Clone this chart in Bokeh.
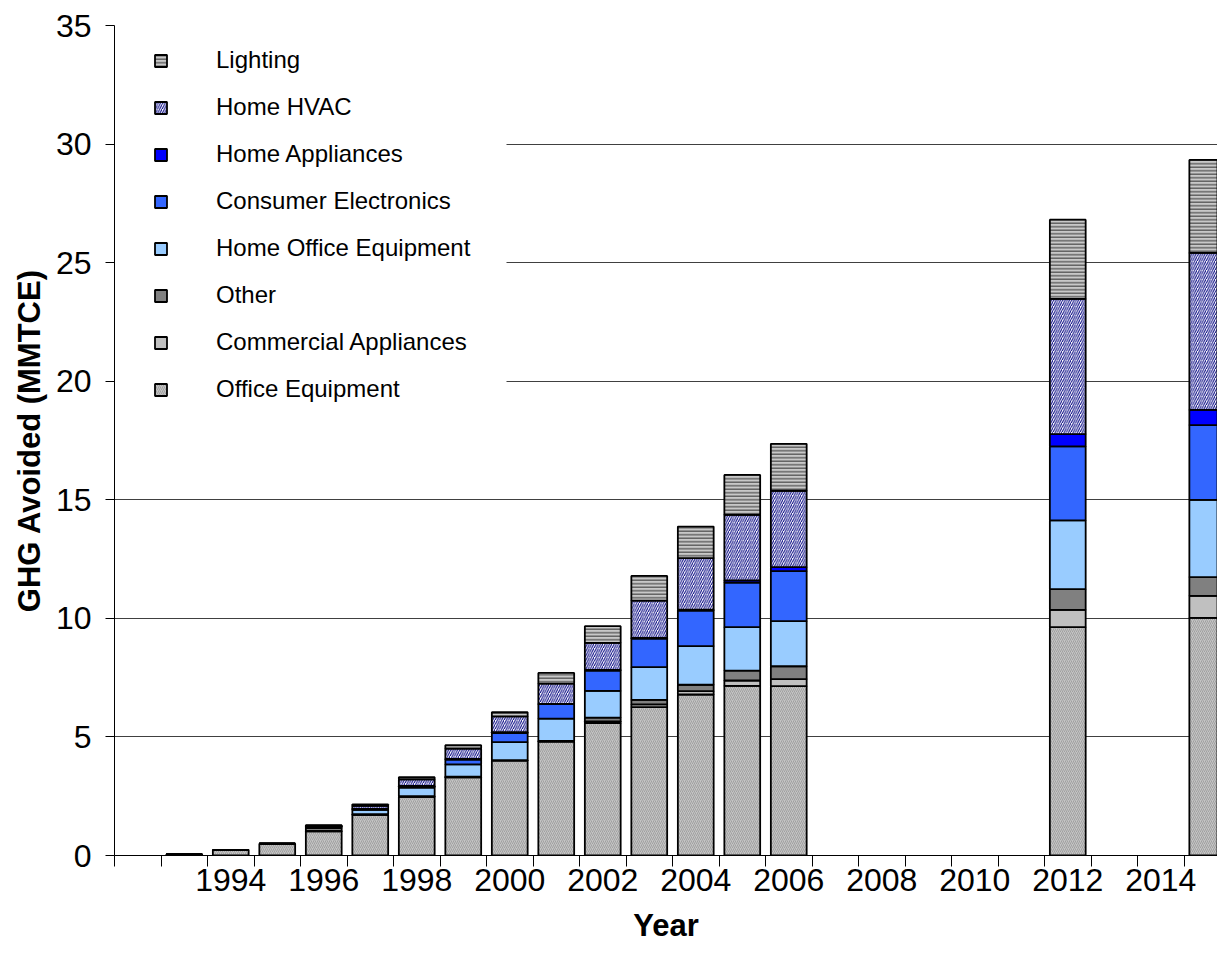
from bokeh.plotting import figure
from bokeh.models import (ColumnDataSource, Range1d, FixedTicker, Legend, LegendItem,
                          BoxAnnotation)
from bokeh.embed import file_html
from bokeh.resources import INLINE

# ---------------- data ----------------
years = [1993, 1994, 1995, 1996, 1997, 1998, 1999, 2000, 2001, 2002, 2003,
         2004, 2005, 2006, 2012, 2015]
office_equipment = [0.05, 0.24, 0.50, 1.02, 1.71, 2.47, 3.30, 4.00, 4.80, 5.58,
                    6.26, 6.79, 7.15, 7.14, 9.63, 10.02]
commercial_appliances = [0.0, 0.0, 0.0, 0.02, 0.01, 0.01, 0.01, 0.01, 0.01, 0.07,
                         0.11, 0.14, 0.23, 0.30, 0.73, 0.93]
other = [0.0, 0.0, 0.0, 0.12, 0.02, 0.02, 0.01, 0.01, 0.02, 0.16,
         0.19, 0.27, 0.42, 0.54, 0.87, 0.79]
home_office_equipment = [0.0, 0.0, 0.0, 0.04, 0.19, 0.36, 0.52, 0.76, 0.94, 1.13,
                         1.38, 1.63, 1.83, 1.90, 2.90, 3.26]
consumer_electronics = [0.0, 0.0, 0.0, 0.02, 0.03, 0.05, 0.20, 0.38, 0.61, 0.86,
                        1.21, 1.50, 1.88, 2.11, 3.12, 3.15]
home_appliances = [0.0, 0.0, 0.0, 0.01, 0.01, 0.02, 0.03, 0.04, 0.01, 0.03,
                   0.03, 0.04, 0.09, 0.17, 0.52, 0.64]
home_hvac = [0.0, 0.0, 0.0, 0.03, 0.12, 0.28, 0.44, 0.67, 0.86, 1.14,
             1.57, 2.17, 2.77, 3.22, 5.70, 6.62]
lighting = [0.0, 0.0, 0.0, 0.02, 0.06, 0.09, 0.14, 0.17, 0.45, 0.70,
            1.04, 1.33, 1.68, 1.98, 3.34, 3.92]

series_names = ["Office Equipment", "Commercial Appliances", "Other",
                "Home Office Equipment", "Consumer Electronics", "Home Appliances",
                "Home HVAC", "Lighting"]
x_tick_years = [1994, 1996, 1998, 2000, 2002, 2004, 2006, 2008, 2010, 2012, 2014]
x_tick_labels = ["1994", "1996", "1998", "2000", "2002", "2004", "2006",
                 "2008", "2010", "2012", "2014"]
y_ticks = [0, 5, 10, 15, 20, 25, 30, 35]

# ---------------- styles ----------------
fills = ["#C4C4C4", "#C0C0C0", "#808080", "#99CCFF", "#3366FF", "#0000FF",
         "#FFFFFF", "#C8C8C8"]
hatches = ["right_diagonal_line", " ", " ", " ", " ", " ",
           "right_diagonal_line", "horizontal_line"]
hatch_colors = ["#9C9C9C", "black", "black", "black", "black", "black",
                "#000080", "#555555"]
hatch_scales = [4.0, 12, 12, 12, 12, 12, 4.5, 3.5]
hatch_weights = [0.9, 1, 1, 1, 1, 1, 1.0, 1.3]

keys = ["oe", "ca", "ot", "hoe", "ce", "ha", "hvac", "li"]
source = ColumnDataSource(dict(year=years, oe=office_equipment, ca=commercial_appliances,
                               ot=other, hoe=home_office_equipment,
                               ce=consumer_electronics, ha=home_appliances,
                               hvac=home_hvac, li=lighting))

x_start = 1991.5
x_end = 2015.22

p = figure(width=1217, height=969, output_backend="svg", toolbar_location=None,
           x_range=Range1d(x_start, x_end), y_range=Range1d(0, 35),
           min_border_left=114, min_border_right=0, min_border_top=25,
           min_border_bottom=114)
p.outline_line_color = None
p.background_fill_color = "white"
p.border_fill_color = "white"

# white area behind the legend (hides gridlines there)
p.add_layout(BoxAnnotation(left=x_start, right=1999.93, bottom=16.3, top=34.6,
                           fill_color="white", fill_alpha=1.0, line_color=None,
                           level="underlay"))

renderers = p.vbar_stack(keys, x="year", width=0.77, source=source,
                         fill_color=fills, line_color="black", line_width=1.8,
                         hatch_pattern=hatches, hatch_color=hatch_colors,
                         hatch_scale=hatch_scales, hatch_weight=hatch_weights)

items = [LegendItem(label=series_names[i], renderers=[renderers[i]])
         for i in reversed(range(len(keys)))]
legend = Legend(items=items, location=(39, 451), padding=10, spacing=17,
                label_height=30, glyph_height=15, glyph_width=15,
                label_standoff=48, label_text_font="Liberation Sans",
                label_text_font_size="24px", label_text_color="black",
                background_fill_alpha=0.0, border_line_color=None)
p.add_layout(legend)

# grid
p.xgrid.visible = False
p.ygrid.ticker = FixedTicker(ticks=y_ticks)
p.ygrid.grid_line_color = "#404040"
p.ygrid.grid_line_width = 1

# y axis
ya = p.yaxis[0]
ya.ticker = FixedTicker(ticks=y_ticks)
ya.axis_line_color = "black"
ya.major_tick_out = 9
ya.major_tick_in = 0
ya.minor_tick_out = 0
ya.minor_tick_in = 0
ya.major_label_standoff = 14
ya.major_label_text_font = "Liberation Sans"
ya.major_label_text_font_size = "32px"
ya.major_label_text_color = "black"
ya.axis_label = "GHG Avoided (MMTCE)"
ya.axis_label_text_font = "Liberation Sans"
ya.axis_label_text_font_size = "31px"
ya.axis_label_text_font_style = "bold"
ya.axis_label_text_color = "black"
ya.axis_label_standoff = 6

# x axis
xa = p.xaxis[0]
minor = [x_start + i for i in range(0, 25)]
xa.ticker = FixedTicker(ticks=x_tick_years, minor_ticks=minor)
xa.major_label_overrides = {y: s for y, s in zip(x_tick_years, x_tick_labels)}
xa.axis_line_color = "black"
xa.major_tick_out = 0
xa.major_tick_in = 0
xa.minor_tick_out = 11
xa.minor_tick_in = 0
xa.minor_tick_line_color = "black"
xa.major_label_standoff = 2
xa.major_label_text_font = "Liberation Sans"
xa.major_label_text_font_size = "32px"
xa.major_label_text_color = "black"
xa.axis_label = "Year"
xa.axis_label_text_font = "Liberation Sans"
xa.axis_label_text_font_size = "31px"
xa.axis_label_text_font_style = "bold"
xa.axis_label_text_color = "black"
xa.axis_label_standoff = 14

open("out.html", "w").write(file_html(p, INLINE))
